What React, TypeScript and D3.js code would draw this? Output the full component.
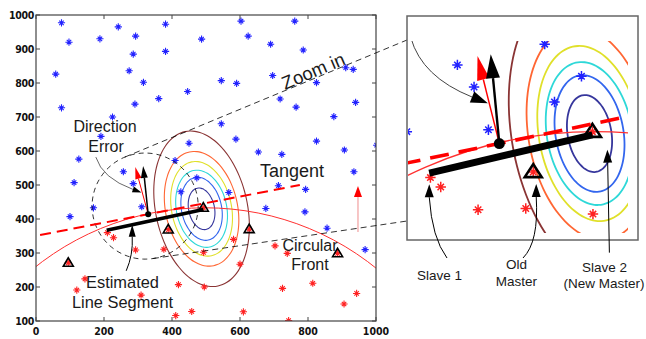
import * as d3 from 'd3';

type P = [number, number];

// ---- data (plot units, 0..1000) ----
const blueStars: P[] = [
  [75, 977], [97, 920], [188, 930], [242, 965], [293, 938], [286, 885], [381, 973], [381, 893],
  [58, 826], [274, 836], [316, 802], [75, 727], [291, 738], [361, 754], [446, 775], [225, 700],
  [191, 643], [126, 576], [450, 623], [409, 572], [487, 929], [603, 982], [761, 982], [624, 938],
  [690, 914], [786, 897], [545, 807], [590, 799], [696, 822], [825, 801], [911, 845], [933, 840],
  [718, 753], [765, 729], [940, 743], [876, 701], [545, 680], [588, 635], [654, 597], [723, 590],
  [825, 629], [907, 603], [1002, 617], [935, 539], [713, 498], [793, 487], [567, 478], [676, 431],
  [791, 421], [856, 373], [968, 310], [473, 521], [257, 539], [286, 504], [112, 507], [169, 433],
  [100, 407], [311, 436], [426, 480],
];
const redStars: P[] = [
  [228, 345], [293, 309], [376, 311], [144, 224], [120, 191], [309, 176], [419, 207], [458, 128],
  [411, 116], [581, 340], [493, 302], [703, 321], [739, 299], [600, 267], [495, 200], [725, 196],
  [814, 211], [943, 181], [906, 150], [610, 127], [743, 101], [210, 360],
];
// agents drawn as triangles, each with a red star inside
const agents: P[] = [[95, 271], [389, 369], [492, 433], [627, 370], [887, 299]];

const contourCenter: P = [487, 430];
const contourTilt = 12;
const contourColors = ['#8a3434', '#ff6633', '#e0e02a', '#2ed8d8', '#3366ee', '#36369c'];
const contourMajor = [232, 171, 141, 115, 94, 62];
const contourMinor = [135, 106, 88, 74, 59, 38];

const frontCenter: P = [497, -369];
const frontRadius = 802;
const segment: P[] = [[208, 367], [492, 428]];
const tangent: P[] = [[12, 353], [776, 500]];
const robot: P = [330, 414];
const trueHeading: P = [315, 556];
const estHeading: P = [292, 553];
const errorArc: P[] = [[176, 582], [195, 520], [310, 478]];
const zoomCircle = { c: [321, 438] as P, r: 156 };
const frontArrow: P[] = [[947, 362], [947, 497]];

const xTicks = [0, 200, 400, 600, 800, 1000];
const yTicks = [100, 200, 300, 400, 500, 600, 700, 800, 900, 1000];

// ---- layout ----
const W = 646;
const H = 339;
const plot = { left: 36, right: 376, top: 15, bottom: 321 };
const inset = { left: 407, right: 638, top: 16, bottom: 240 };
const insetView = { left: 408, right: 628, top: 41, bottom: 233 };
const insetX: P = [171, 554];
const insetY: P = [272, 577];

const sans = 'Liberation Sans, Arial, sans-serif';
const tickFont = 'DejaVu Sans Condensed, DejaVu Sans, sans-serif';

type Style = {
  star: number; starW: number; triW: number; triH: number; triS: number;
  contourW: number; frontW: number; segW: number; dash: string; dashW: number;
  dot: number; headL: number; headW: number; blackW: number; redW: number;
  arcW: number; arcL: number; arcHW: number;
};

const mainStyle: Style = {
  star: 3.6, starW: 1.1, triW: 10, triH: 8.5, triS: 1.6, contourW: 1.1, frontW: 1,
  segW: 3.6, dash: '11 6', dashW: 2, dot: 3, headL: 12, headW: 7, blackW: 1.5, redW: 1,
  arcW: 0.8, arcL: 9, arcHW: 6,
};
const insetStyle: Style = {
  star: 5.2, starW: 1.5, triW: 17, triH: 13, triS: 2.6, contourW: 1.8, frontW: 1.3,
  segW: 7, dash: '19 10', dashW: 3.6, dot: 5.5, headL: 24, headW: 14, blackW: 2.4, redW: 1.5,
  arcW: 1, arcL: 17, arcHW: 12,
};

function headPoints(tip: P, from: P, len: number, width: number) {
  const dx = tip[0] - from[0];
  const dy = tip[1] - from[1];
  const L = Math.hypot(dx, dy) || 1;
  const ux = dx / L, uy = dy / L;
  const bx = tip[0] - ux * len, by = tip[1] - uy * len;
  return {
    base: [bx, by] as P,
    points: `${tip[0]},${tip[1]} ${bx - (uy * width) / 2},${by + (ux * width) / 2} ${bx + (uy * width) / 2},${by - (ux * width) / 2}`,
  };
}

function Arrow({ from, to, color, lineColor, w, len, hw }: { from: P; to: P; color: string; lineColor?: string; w: number; len: number; hw: number }) {
  const h = headPoints(to, from, len, hw);
  return (
    <g>
      <line x1={from[0]} y1={from[1]} x2={h.base[0]} y2={h.base[1]} stroke={lineColor || color} strokeWidth={w} />
      <polygon points={h.points} fill={color} />
    </g>
  );
}

function starPath(p: P, s: number) {
  const d = s * 0.62;
  return `M${p[0] - s},${p[1]}H${p[0] + s}M${p[0]},${p[1] - s}V${p[1] + s}` +
    `M${p[0] - d},${p[1] - d}L${p[0] + d},${p[1] + d}M${p[0] - d},${p[1] + d}L${p[0] + d},${p[1] - d}`;
}

function Panel({ x, y, s, clipId, main }: { x: d3.ScaleLinear<number, number>; y: d3.ScaleLinear<number, number>; s: Style; clipId: string; main: boolean }) {
  const pt = (d: P): P => [x(d[0]), y(d[1])];
  const th = (contourTilt * Math.PI) / 180;
  const u: P = [-Math.sin(th), Math.cos(th)];
  const v: P = [Math.cos(th), Math.sin(th)];
  const closed = d3.line().curve(d3.curveCardinalClosed);
  const contours = contourMajor.map((a, i) => {
    const b = contourMinor[i];
    const pts = d3.range(0, 360, 6).map((deg) => {
      const t = (deg * Math.PI) / 180;
      return pt([
        contourCenter[0] + a * Math.cos(t) * u[0] + b * Math.sin(t) * v[0],
        contourCenter[1] + a * Math.cos(t) * u[1] + b * Math.sin(t) * v[1],
      ]);
    });
    return <path key={i} d={closed(pts) || ''} fill="none" stroke={contourColors[i]} strokeWidth={s.contourW} />;
  });

  const kx = Math.abs(x(1) - x(0));
  const ky = Math.abs(y(1) - y(0));
  const fc = pt(frontCenter);
  const dot = pt(robot);

  const arc = errorArc.map(pt);
  const arcHead = headPoints(arc[2], arc[1], s.arcL, s.arcHW);

  return (
    <g clipPath={`url(#${clipId})`}>
      {contours}
      <ellipse cx={fc[0]} cy={fc[1]} rx={frontRadius * kx} ry={frontRadius * ky} fill="none" stroke="#ff3030" strokeWidth={s.frontW} />
      <path d={blueStars.map((p) => starPath(pt(p), s.star)).join('')} stroke="#2222ff" strokeWidth={s.starW} fill="none" />
      <path d={redStars.concat(agents).map((p) => starPath(pt(p), s.star)).join('')} stroke="#ff2222" strokeWidth={s.starW} fill="none" />
      {agents.map((p, i) => {
        const [cx, cy] = pt(p);
        return (
          <polygon key={i} fill="none" stroke="#000" strokeWidth={s.triS} strokeLinejoin="miter"
            points={`${cx},${cy - s.triH * 0.6} ${cx - s.triW / 2},${cy + s.triH * 0.4} ${cx + s.triW / 2},${cy + s.triH * 0.4}`} />
        );
      })}
      {main && (
        <circle cx={x(zoomCircle.c[0])} cy={y(zoomCircle.c[1])} r={zoomCircle.r * kx} fill="none" stroke="#000" strokeWidth={0.8} strokeDasharray="5 4" />
      )}
      {main && (
        <Arrow from={pt(frontArrow[0])} to={pt(frontArrow[1])} color="#ff0000" lineColor="#f2a0a0" w={1.2} len={11} hw={8} />
      )}
      <path d={d3.line()(segment.map(pt)) || ''} stroke="#000" strokeWidth={s.segW} fill="none" />
      <path d={d3.line()(tangent.map(pt)) || ''} stroke="#ff0000" strokeWidth={s.dashW} strokeDasharray={s.dash} fill="none" />
      <path d={`M${arc[0][0]},${arc[0][1]}Q${arc[1][0]},${arc[1][1]} ${arcHead.base[0]},${arcHead.base[1]}`} stroke="#444" strokeWidth={s.arcW} fill="none" />
      <polygon points={arcHead.points} fill="#000" />
      <Arrow from={dot} to={pt(estHeading)} color="#ff0000" w={s.redW} len={s.headL} hw={s.headW * 0.9} />
      <Arrow from={dot} to={pt(trueHeading)} color="#000" w={s.blackW} len={s.headL} hw={s.headW} />
      <circle cx={dot[0]} cy={dot[1]} r={s.dot} fill="#000" />
    </g>
  );
}

function tangentPoint(c: P, r: number, p: P, upper: boolean): P {
  const dx = p[0] - c[0], dy = p[1] - c[1];
  const d = Math.hypot(dx, dy);
  const phi = Math.atan2(dy, dx);
  const al = Math.acos(r / d);
  const a = phi + (upper ? -al : al);
  return [c[0] + r * Math.cos(a), c[1] + r * Math.sin(a)];
}

export default function App() {
  const x = d3.scaleLinear().domain([0, 1000]).range([plot.left, plot.right]);
  const y = d3.scaleLinear().domain([100, 1000]).range([plot.bottom, plot.top]);
  const ix = d3.scaleLinear().domain(insetX).range([insetView.left, insetView.right]);
  const iy = d3.scaleLinear().domain(insetY).range([insetView.bottom, insetView.top]);

  const cc: P = [x(zoomCircle.c[0]), y(zoomCircle.c[1])];
  const cr = zoomCircle.r * (x(1) - x(0));
  const upEnd: P = [inset.left, 40];
  const loEnd: P = [inset.left, 221];
  const upStart = tangentPoint(cc, cr, upEnd, true);
  const loStart = tangentPoint(cc, cr, loEnd, false);

  const lbl = { fontFamily: sans, fill: '#1a1a1a', textAnchor: 'middle' as const };

  // label leaders in the inset, anchored to the agents they point at
  const s1 = [ix(segment[0][0]), iy(segment[0][1])];
  const om = [ix(agents[1][0]), iy(agents[1][1])];
  const s2 = [ix(agents[2][0]), iy(agents[2][1])];
  const estTip: P = [x(283), y(383)];

  return (
    <svg width={W} height={H} style={{ position: 'absolute', left: 0, top: 0, background: '#fff' }}>
      <defs>
        <clipPath id="main-clip"><rect x={plot.left} y={plot.top} width={plot.right - plot.left} height={plot.bottom - plot.top} /></clipPath>
        <clipPath id="inset-clip"><rect x={insetView.left} y={insetView.top} width={insetView.right - insetView.left} height={insetView.bottom - insetView.top} /></clipPath>
      </defs>
      <rect width={W} height={H} fill="#fff" />

      <Panel x={x} y={y} s={mainStyle} clipId="main-clip" main />

      {/* axes box and ticks */}
      <rect x={plot.left} y={plot.top} width={plot.right - plot.left} height={plot.bottom - plot.top} fill="none" stroke="#444" strokeWidth={1.2} />
      {xTicks.map((t) => (
        <g key={`x${t}`}>
          <line x1={x(t)} x2={x(t)} y1={plot.bottom} y2={plot.bottom - 4} stroke="#444" />
          <line x1={x(t)} x2={x(t)} y1={plot.top} y2={plot.top + 4} stroke="#444" />
          <text x={x(t)} y={plot.bottom + 14} textAnchor="middle" fontFamily={tickFont} fontWeight="bold" fontSize={10.5} fill="#111">{t}</text>
        </g>
      ))}
      {yTicks.map((t) => (
        <g key={`y${t}`}>
          <line x1={plot.left} x2={plot.left + 4} y1={y(t)} y2={y(t)} stroke="#444" />
          <line x1={plot.right} x2={plot.right - 4} y1={y(t)} y2={y(t)} stroke="#444" />
          <text x={plot.left - 2} y={y(t) + 4} textAnchor="end" fontFamily={tickFont} fontWeight="bold" fontSize={10.5} fill="#111" letterSpacing={-0.3}>{t}</text>
        </g>
      ))}

      {/* zoom lines */}
      <line x1={upStart[0]} y1={upStart[1]} x2={upEnd[0]} y2={upEnd[1]} stroke="#000" strokeWidth={0.8} strokeDasharray="6 4" />
      <line x1={loStart[0]} y1={loStart[1]} x2={loEnd[0]} y2={loEnd[1]} stroke="#000" strokeWidth={0.8} strokeDasharray="6 4" />

      {/* main annotations */}
      <text {...lbl} x={105} y={132} fontSize={16}>Direction</text>
      <text {...lbl} x={106} y={152} fontSize={16}>Error</text>
      <text x={285} y={90} fontFamily={sans} fontSize={18.5} fill="#1a1a1a" transform="rotate(-23 285 90)">Zoom in</text>
      <text {...lbl} x={292} y={177} fontSize={18}>Tangent</text>
      <text {...lbl} x={310} y={251} fontSize={16}>Circular</text>
      <text {...lbl} x={310} y={270} fontSize={16}>Front</text>
      <text {...lbl} x={122.5} y={288} fontSize={16.4}>Estimated</text>
      <text {...lbl} x={122.5} y={308} fontSize={16.4}>Line Segment</text>
      {(() => {
        const h = headPoints(estTip, [estTip[0], estTip[1] + 20], 12, 7);
        return (
          <g>
            <path d={`M${estTip[0] - 6},${estTip[1] + 46}Q${estTip[0] + 1},${estTip[1] + 30} ${h.base[0]},${h.base[1]}`} fill="none" stroke="#000" strokeWidth={1} />
            <polygon points={h.points} fill="#000" />
          </g>
        );
      })()}

      {/* inset */}
      <rect x={inset.left} y={inset.top} width={inset.right - inset.left} height={inset.bottom - inset.top} fill="#fff" stroke="#666" strokeWidth={1.5} />
      <Panel x={ix} y={iy} s={insetStyle} clipId="inset-clip" main={false} />

      {(() => {
        const t1: P = [s1[0], s1[1] + 11];
        const t2: P = [om[0] + 3, om[1] + 12];
        const t3: P = [s2[0] + 15, s2[1] + 18];
        const h1 = headPoints(t1, [t1[0], t1[1] + 20], 13, 9);
        const h2 = headPoints(t2, [t2[0], t2[1] + 20], 13, 9);
        const h3 = headPoints(t3, [t3[0] + 2, t3[1] + 90], 13, 9);
        return (
          <g stroke="#000" strokeWidth={1} fill="none">
            <path d={`M447,258Q432,238 ${h1.base[0]},${h1.base[1]}`} />
            <polygon points={h1.points} fill="#000" stroke="none" />
            <path d={`M523,258Q539,242 ${h2.base[0]},${h2.base[1]}`} />
            <polygon points={h2.points} fill="#000" stroke="none" />
            <path d={`M${t3[0] + 2},${t3[1] + 103}L${h3.base[0]},${h3.base[1]}`} />
            <polygon points={h3.points} fill="#000" stroke="none" />
          </g>
        );
      })()}
      <text {...lbl} x={439.5} y={280} fontSize={13.5}>Slave 1</text>
      <text {...lbl} x={516.5} y={269} fontSize={13.5}>Old</text>
      <text {...lbl} x={516.5} y={286} fontSize={13.5}>Master</text>
      <text {...lbl} x={604.5} y={272} fontSize={13.5}>Slave 2</text>
      <text {...lbl} x={604} y={288} fontSize={13.5}>(New Master)</text>
    </svg>
  );
}
